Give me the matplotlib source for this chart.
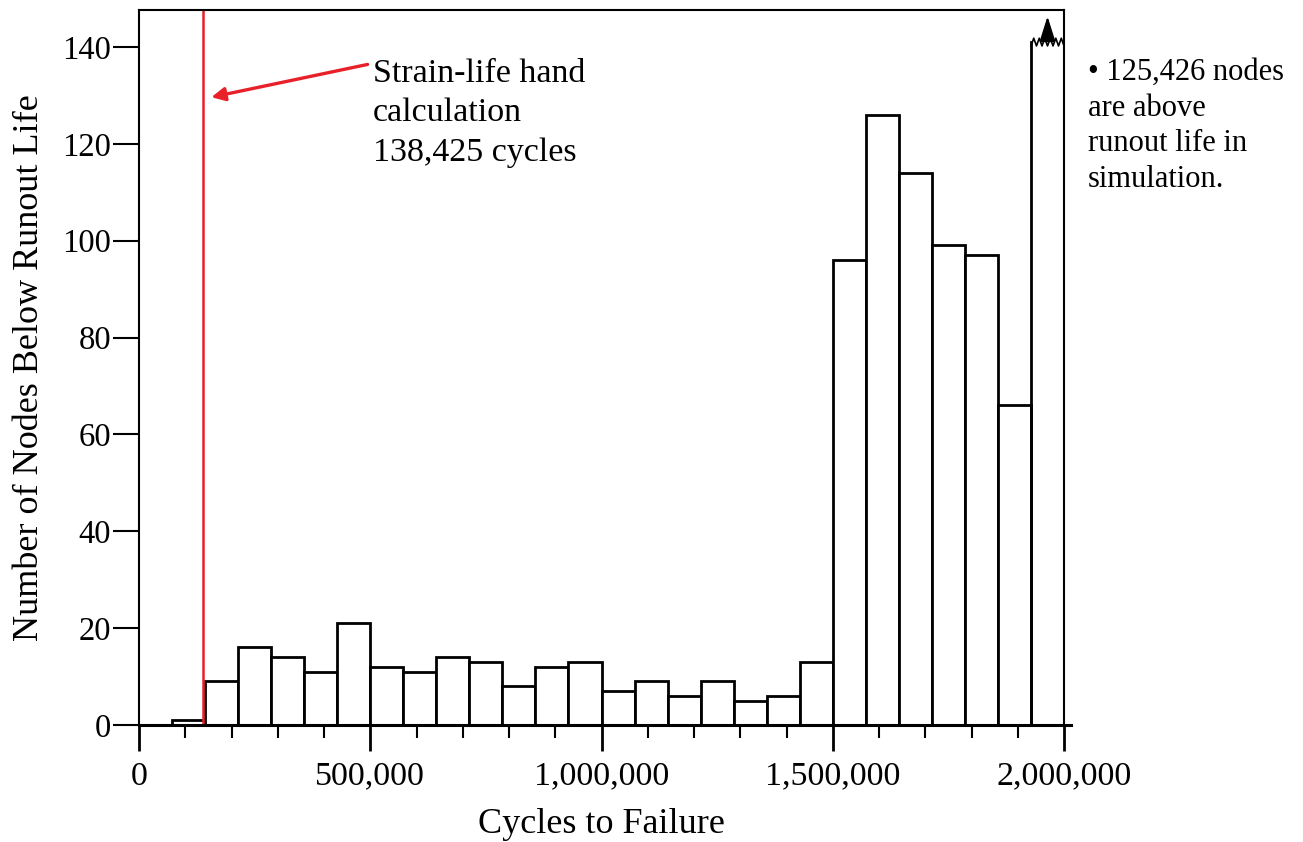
import numpy as np
import matplotlib.pyplot as plt

plt.rcParams['font.family'] = ['Liberation Serif', 'DejaVu Serif']

# histogram bins: 28 bins of equal width over 0..2,000,000
bin_edges = np.linspace(0, 2000000, 29)
counts = [0, 1, 9, 16, 14, 11, 21, 12, 11, 14, 13, 8, 12, 13, 7,
          9, 6, 9, 5, 6, 13, 96, 126, 114, 99, 97, 66, 125426]
clip_level = 141          # last bin is off the scale, drawn broken
hand_calc = 138425
runout_note = "\u2022 125,426 nodes\nare above\nrunout life in\nsimulation."

fig = plt.figure(figsize=(13.03, 8.42), dpi=100)
ax = fig.add_axes([0.1067, 0.139, 0.7099, 0.849])

lefts = bin_edges[:-1]
width = bin_edges[1] - bin_edges[0]
shown = [c if c <= clip_level else clip_level for c in counts]

for l, c, h in zip(lefts, counts, shown):
    if c == 0:
        continue
    if c > clip_level:
        # broken bar: sides + zigzag top
        ax.plot([l, l], [0, h], color='black', lw=2)
        ax.plot([l + width, l + width], [0, h], color='black', lw=2)
        zx = np.linspace(l, l + width, 13)
        zy = h + np.array([0, 1] * 6 + [0]) * 1.6 - 0.8
        ax.plot(zx, zy, color='black', lw=1.2)
        mid = l + width / 2
        ax.plot([mid, mid], [h + 0.3, 143.5], color='black', lw=1.5, ls=(0, (2, 1.5)))
        ax.annotate('', xy=(mid, 146.9), xytext=(mid, 143),
                    arrowprops=dict(arrowstyle='-|>,head_length=0.7,head_width=0.22',
                                    color='black', lw=1.5, mutation_scale=22))
    else:
        ax.bar(l, h, width=width, align='edge', facecolor='white',
               edgecolor='black', linewidth=2)

ax.axvline(hand_calc, color='#e8202a', lw=1.8)
ax.annotate('', xy=(hand_calc + 12000, 129.5), xytext=(500000, 136.5),
            arrowprops=dict(arrowstyle='-|>', color='#e8202a', lw=2.4,
                            mutation_scale=20))
ax.text(505000, 137.6, "Strain-life hand\ncalculation\n138,425 cycles",
        fontsize=24.5, va='top', ha='left', linespacing=1.38)

fig.text(0.835, 0.931, runout_note, fontsize=22, va='top', ha='left',
         linespacing=1.3)

ax.set_xlim(0, 2000000)
ax.set_ylim(0, 147.6)
ax.set_xticks([0, 500000, 1000000, 1500000, 2000000])
ax.set_xticklabels(['0', '500,000', '1,000,000', '1,500,000', '2,000,000'])
ax.set_xticks(np.arange(100000, 2000000, 100000), minor=True)
ax.set_yticks(np.arange(0, 141, 20))
ax.tick_params(axis='x', which='major', direction='out', length=19, width=2,
               labelsize=24.5, pad=7)
ax.tick_params(axis='x', which='minor', direction='out', length=9, width=1.5)
ax.tick_params(axis='y', which='major', direction='out', length=19, width=1.5,
               labelsize=23.5, pad=1)
ax.tick_params(axis='y', which='minor', left=False)

for s in ['left', 'top', 'right']:
    ax.spines[s].set_linewidth(1.5)
ax.spines['bottom'].set_visible(False)
ax.plot([0, 1.007], [0, 0], transform=ax.transAxes, color='black', lw=2.2,
        clip_on=False)

ax.set_ylabel('Number of Nodes Below Runout Life', fontsize=26, labelpad=12)
ax.set_xlabel('Cycles to Failure', fontsize=26, labelpad=12)

fig.savefig('out.png', dpi=100)
